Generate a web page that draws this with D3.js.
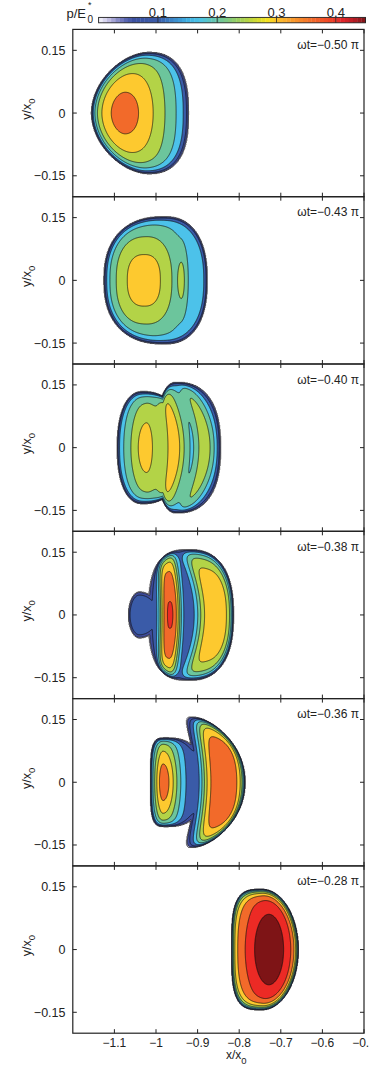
<!DOCTYPE html>
<html>
<head>
<meta charset="utf-8">
<script src="https://cdn.jsdelivr.net/npm/d3@7"></script>
<style>
  body { margin: 0; background: #fff; }
  svg { display: block; font-family: "Liberation Sans", Arial, sans-serif; }
</style>
</head>
<body>
<div id="chart"></div>
<script>
// phase of each snapshot (panel label ωt = ... π)
const phases = ['−0.50', '−0.43', '−0.40', '−0.38', '−0.36', '−0.28'];
const xTicks = [-1.1, -1, -0.9, -0.8, -0.7, -0.6, -0.5];
const yTicks = [-0.15, 0, 0.15];
const cbTicks = [0.1, 0.2, 0.3, 0.4];

// filled contour levels of p/E0* and the colour of each band
const levels = [0.002, 0.05, 0.1, 0.15, 0.2, 0.25, 0.3, 0.35, 0.4, 0.45];
const levelColors = ['#c5c3e2', '#3e4c9c', '#3a5ba8', '#4cc2ea', '#6cc59c',
                     '#b3d347', '#fdc92f', '#f26a2a', '#ec2a25', '#7e1416'];

// colour bar
const cbStops = [0, 0.01, 0.02, 0.03, 0.045, 0.06, 0.1, 0.125, 0.15, 0.17, 0.2, 0.23,
                 0.25, 0.27, 0.285, 0.3, 0.33, 0.36, 0.39, 0.41, 0.43, 0.45];
const cbColors = ['#f7f7fc', '#d9d7ee', '#b9b6de', '#8e8fc9', '#5b67b2', '#3a50a0', '#3a5ba8',
                  '#3b86c8', '#3fb0e2', '#4cc3e6', '#67c4a4', '#92cd68', '#b3d347', '#d8dc2c',
                  '#f4e11e', '#fcc22b', '#f8962b', '#f26b2a', '#ee4426', '#e3262a', '#b81d25', '#7a1316'];

// background pressure inside the contact patch, one per panel
const basePressure = [0.10, 0.18, 0.15, 0.12, 0.10, 0.30];

// contact patch outlines (in x/x0, y/x0): edges, x of widest point, half height,
// outline exponents, edge steepness, bend
const patches = [
  { panel: 0, xl: -1.155, xr: -0.922, xm: -1.035, h: 0.145, nl: 1.9, nr: 2.3, m: 10, k: -0.8 },
  { panel: 1, xl: -1.125, xr: -0.877, xm: -0.980, h: 0.152, nl: 2.4, nr: 2.4, m: 14, k: 0 },
  { panel: 2, xl: -1.093, xr: -0.930, xm: -1.032, h: 0.134, nl: 2.3, nr: 2.3, m: 12, k: 0 },
  { panel: 2, xl: -1.000, xr: -0.845, xm: -0.952, h: 0.156, nl: 2.3, nr: 2.5, m: 12, k: 0 },
  { panel: 3, xl: -1.018, xr: -0.814, xm: -0.922, h: 0.156, nl: 2.8, nr: 2.5, m: 12, k: 0 },
  { panel: 3, xl: -1.066, xr: -0.990, xm: -1.040, h: 0.055, nl: 2.0, nr: 2.0, m: 8,  k: 0 },
  { panel: 4, xl: -1.013, xr: -0.880, xm: -0.975, h: 0.106, nl: 4.0, nr: 2.5, m: 12, k: 0 },
  { panel: 4, xl: -0.905, xr: -0.786, xm: -0.862, h: 0.156, nl: 2.0, nr: 2.4, m: 12, k: 2.3 },
  { panel: 5, xl: -0.818, xr: -0.658, xm: -0.745, h: 0.144, nl: 3.5, nr: 2.0, m: 12, k: 0 }
];

// pressure ridges in each panel: position, widths, amplitude, bend, shape exponents
const ridges = [
  { panel: 0, x: -1.078, wl: 0.110, wr: 0.130, h: 0.180, a: 0.27,  k: -1.5, p: 2,   q: 2 },
  { panel: 1, x: -1.028, wl: 0.080, wr: 0.075, h: 0.120, a: 0.145, k: 0,    p: 2.5, q: 2.5 },
  { panel: 1, x: -0.938, wl: 0.010, wr: 0.010, h: 0.060, a: 0.07,  k: 0,    p: 2,   q: 2 },
  { panel: 2, x: -1.023, wl: 0.050, wr: 0.035, h: 0.150, a: 0.175, k: 0,    p: 2,   q: 2 },
  { panel: 2, x: -0.957, wl: 0.025, wr: 0.032, h: 0.220, a: 0.18,  k: 1.3,  p: 2,   q: 2 },
  { panel: 2, x: -0.885, wl: 0.020, wr: 0.030, h: 0.235, a: 0.135, k: 2.1,  p: 2,   q: 2 },
  { panel: 3, x: -0.966, wl: 0.025, wr: 0.025, h: 0.240, a: 0.285, k: 0.5,  p: 3,   q: 2 },
  { panel: 3, x: -0.855, wl: 0.045, wr: 0.055, h: 0.190, a: 0.21,  k: 1.8,  p: 4,   q: 4 },
  { panel: 4, x: -0.983, wl: 0.026, wr: 0.042, h: 0.130, a: 0.28,  k: 0,    p: 2,   q: 2 },
  { panel: 4, x: -0.839, wl: 0.050, wr: 0.060, h: 0.200, a: 0.28,  k: 1.0,  p: 4,   q: 4 },
  { panel: 5, x: -0.728, wl: 0.072, wr: 0.072, h: 0.175, a: 0.19,  k: 0,    p: 2,   q: 2 }
];

const W = 369, H = 1072;
const panelTop = 29.4, panelH = 167.3;
const svg = d3.select('#chart').append('svg').attr('width', W).attr('height', H);
const x = d3.scaleLinear([-1.2, -0.5], [72.8, 364]);

function envelope(P, xv, yv) {
  const dx = xv - P.xm + P.k * yv * yv;
  const u = dx < 0 ? -dx / (P.xm - P.xl) : dx / (P.xr - P.xm);
  const n = dx < 0 ? P.nl : P.nr;
  const v = Math.abs(yv) / P.h;
  const r = Math.pow(Math.pow(u, n) + Math.pow(v, n), 1 / n);
  return r >= 1 ? 0 : Math.sqrt(1 - Math.pow(r, P.m));
}

function ridge(R, xv, yv) {
  const dx = xv - R.x + R.k * yv * yv;
  const w = dx < 0 ? R.wl : R.wr;
  return R.a * Math.exp(-Math.pow(Math.abs(dx) / w, R.p) - Math.pow(Math.abs(yv) / R.h, R.q));
}

function pressure(shape, bumps, base, xv, yv) {
  let e = 0;
  shape.forEach(P => { e = Math.max(e, envelope(P, xv, yv)); });
  if (e <= 0) return 0;
  let inner = base;
  bumps.forEach(R => { inner += ridge(R, xv, yv); });
  return e * inner;
}

const nx = 560, ny = 320;
const sx = 0.7 / (nx - 1), sy = 0.4 / (ny - 1);

phases.forEach((ph, i) => {
  const top = panelTop + i * panelH;
  const y = d3.scaleLinear([-0.2, 0.2], [top + panelH, top]);

  const shape = patches.filter(P => P.panel === i);
  const bumps = ridges.filter(R => R.panel === i);

  const values = new Float64Array(nx * ny);
  for (let j = 0; j < ny; j++) {
    const yv = 0.2 - j * sy;
    for (let ii = 0; ii < nx; ii++) {
      values[ii + j * nx] = pressure(shape, bumps, basePressure[i], -1.2 + ii * sx, yv);
    }
  }

  const contours = d3.contours().size([nx, ny]).thresholds(levels)(values);
  const proj = d3.geoTransform({
    point: function (px, py) {
      this.stream.point(x(-1.2 + (px - 0.5) * sx), y(0.2 - (py - 0.5) * sy));
    }
  });
  const path = d3.geoPath(proj);

  svg.append('clipPath').attr('id', 'clip' + i)
    .append('rect')
    .attr('x', x(-1.2)).attr('y', top)
    .attr('width', x(-0.5) - x(-1.2)).attr('height', panelH);

  svg.append('g')
    .attr('clip-path', `url(#clip${i})`)
    .selectAll('path')
    .data(contours)
    .join('path')
    .attr('d', path)
    .attr('fill', (d, k) => levelColors[k])
    .attr('stroke', '#111')
    .attr('stroke-width', 0.7)
    .attr('stroke-linejoin', 'round');

  // frame
  svg.append('rect')
    .attr('x', x(-1.2)).attr('y', top)
    .attr('width', x(-0.5) - x(-1.2)).attr('height', panelH)
    .attr('fill', 'none').attr('stroke', '#222').attr('stroke-width', 1.2);

  // inward ticks
  const tk = svg.append('g').attr('stroke', '#222').attr('stroke-width', 1);
  xTicks.forEach(t => {
    tk.append('line').attr('x1', x(t)).attr('x2', x(t)).attr('y1', top).attr('y2', top + 4);
    tk.append('line').attr('x1', x(t)).attr('x2', x(t)).attr('y1', top + panelH).attr('y2', top + panelH - 4);
  });
  yTicks.forEach(t => {
    tk.append('line').attr('x1', x(-1.2)).attr('x2', x(-1.2) + 4).attr('y1', y(t)).attr('y2', y(t));
    tk.append('line').attr('x1', x(-0.5)).attr('x2', x(-0.5) - 4).attr('y1', y(t)).attr('y2', y(t));
  });

  svg.append('g').selectAll('text')
    .data(yTicks)
    .join('text')
    .attr('x', 65.5)
    .attr('y', d => y(d))
    .attr('dy', '0.36em')
    .attr('text-anchor', 'end')
    .attr('font-size', 12.5)
    .attr('fill', '#222')
    .text(d => d === 0 ? '0' : d3.format('.2f')(d).replace('-', '−'));

  const yl = svg.append('text')
    .attr('transform', `translate(30.5,${y(0) - 4}) rotate(-90)`)
    .attr('text-anchor', 'middle')
    .attr('font-size', 12.5)
    .attr('fill', '#222');
  yl.append('tspan').text('y/x');
  yl.append('tspan').attr('font-size', 9.5).attr('dy', 4).text('0');

  svg.append('text')
    .attr('x', 359)
    .attr('y', top + 19.5)
    .attr('text-anchor', 'end')
    .attr('font-size', 12)
    .attr('fill', '#222')
    .text(`ωt=${ph} π`);
});

// x axis labels of the last panel
const bottom = panelTop + 6 * panelH;
svg.append('g').selectAll('text')
  .data(xTicks)
  .join('text')
  .attr('x', d => x(d))
  .attr('y', bottom + 13.5)
  .attr('text-anchor', 'middle')
  .attr('font-size', 12)
  .attr('fill', '#222')
  .text(d => d3.format('')(d).replace('-', '−'));

const xl = svg.append('text')
  .attr('x', 226).attr('y', bottom + 26)
  .attr('font-size', 12).attr('fill', '#222');
xl.append('tspan').text('x/x');
xl.append('tspan').attr('font-size', 9.5).attr('dy', 5).text('0');

// colour bar
const cb = d3.scaleLinear([0, 0.45], [98.6, 365.5]);
const cbColor = d3.scaleLinear(cbStops, cbColors);
const steps = d3.range(64).map(s => s * 0.45 / 64);
svg.append('g').selectAll('rect')
  .data(steps)
  .join('rect')
  .attr('x', d => cb(d))
  .attr('y', 17.4)
  .attr('width', cb(0.45 / 64) - cb(0) + 0.3)
  .attr('height', 5.4)
  .attr('fill', d => cbColor(d + 0.45 / 128));
svg.append('rect')
  .attr('x', cb(0)).attr('y', 17.4)
  .attr('width', cb(0.45) - cb(0)).attr('height', 5.4)
  .attr('fill', 'none').attr('stroke', '#222').attr('stroke-width', 0.9);
svg.append('g').attr('stroke', '#222').attr('stroke-width', 0.8)
  .selectAll('line')
  .data(cbTicks)
  .join('line')
  .attr('x1', d => cb(d)).attr('x2', d => cb(d))
  .attr('y1', 17.4).attr('y2', 22.8);
svg.append('g').selectAll('text')
  .data(cbTicks)
  .join('text')
  .attr('x', d => cb(d))
  .attr('y', 16.8)
  .attr('text-anchor', 'middle')
  .attr('font-size', 13)
  .attr('fill', '#222')
  .text(d => d3.format('.1f')(d));

svg.append('text').attr('x', 66.5).attr('y', 18).attr('font-size', 13).attr('fill', '#222').text('p/E');
svg.append('text').attr('x', 88).attr('y', 8).attr('font-size', 9).attr('fill', '#222').text('*');
svg.append('text').attr('x', 87.5).attr('y', 23).attr('font-size', 10).attr('fill', '#222').text('0');
</script>
</body>
</html>
